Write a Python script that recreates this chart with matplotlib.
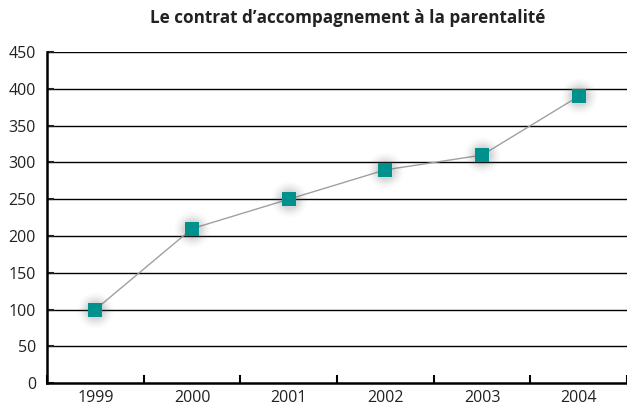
import matplotlib
matplotlib.use('Agg')
import matplotlib.pyplot as plt
import numpy as np

plt.rcParams.update({
    'font.family': 'Open Sans',
    'font.size': 11,
})

years = ['1999', '2000', '2001', '2002', '2003', '2004']
values = [100, 210, 250, 290, 310, 390]
yticks = [0, 50, 100, 150, 200, 250, 300, 350, 400, 450]

fig = plt.figure(figsize=(6.27, 4.11), dpi=100)
ax = fig.add_axes([0.075, 0.068, 0.925, 0.805])

x = np.arange(len(years))

# grid lines
for yv in yticks[1:]:
    ax.axhline(yv, color='black', linewidth=1.0, zorder=1)

ax.plot(x, values, color='#a0a0a0', linewidth=1.0, zorder=2)

# soft shadow behind the markers
for s, a in [(26, 0.025), (23, 0.035), (20, 0.05), (17, 0.07), (14, 0.09)]:
    ax.plot(x, values, 'o', markersize=s, color='#606060', alpha=a,
            markeredgewidth=0, zorder=3)
ax.plot(x, values, 's', markersize=10.5, color='#00918e',
        markeredgewidth=0, zorder=4)

ax.set_xlim(-0.5, len(years) - 0.5)
ax.set_ylim(0, 450)
ax.set_yticks(yticks)
ax.set_xticks(x)
ax.set_xticklabels(years)
ax.set_xticks(np.arange(len(years) + 1) - 0.5, minor=True)
ax.tick_params(axis='x', which='major', length=0, pad=5, labelsize=11.5, colors='#222222')
ax.tick_params(axis='x', which='minor', direction='in', length=6, width=1.5)
ax.tick_params(axis='y', direction='in', length=5, width=1.5, pad=8,
               labelsize=11.5, colors='#222222')
for side in ['top', 'right']:
    ax.spines[side].set_visible(False)
ax.spines['left'].set_linewidth(1.8)
ax.spines['bottom'].set_linewidth(1.8)

fig.text(0.555, 0.955, "Le contrat d\u2019accompagnement \u00e0 la parentalit\u00e9",
         ha='center', va='center', fontsize=12.3, fontweight='bold', color='#222222')

fig.savefig('out.png', dpi=100)
